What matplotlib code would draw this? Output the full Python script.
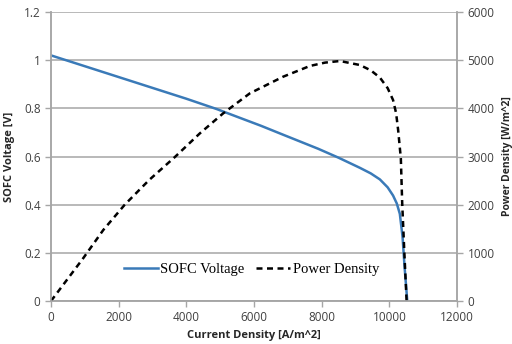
import matplotlib
matplotlib.use("Agg")
import matplotlib.pyplot as plt

# SOFC voltage curve
J_volt = [0, 1000, 2000, 3000, 4000, 4900, 5500, 6200, 6870, 7350, 7900, 8500,
          9130, 9450, 9720, 9950, 10110, 10220, 10310, 10390, 10450, 10530]
V_sofc = [1.02, 0.975, 0.93, 0.885, 0.84, 0.797, 0.765, 0.728, 0.69, 0.663, 0.632, 0.595,
          0.553, 0.53, 0.505, 0.472, 0.438, 0.405, 0.362, 0.267, 0.142, 0.0]

# power density curve
J_pow = [0, 950, 1545, 2180, 2900, 3662, 4400, 5090, 5877, 6860, 7354, 7650, 8100,
         8540, 9130, 9450, 9720, 9950, 10110, 10200, 10260, 10340, 10380, 10440, 10510]
P_dens = [0, 886, 1474, 2000, 2512, 2990, 3481, 3897, 4312, 4657, 4796, 4880, 4950,
          4983, 4900, 4790, 4640, 4420, 4173, 3900, 3550, 2960, 2030, 1060, 0]

xticks = [0, 2000, 4000, 6000, 8000, 10000, 12000]
vticks = [0, 0.2, 0.4, 0.6, 0.8, 1, 1.2]
pticks = [0, 1000, 2000, 3000, 4000, 5000, 6000]

plt.rcParams['font.family'] = ['Open Sans', 'DejaVu Sans']
grey = '#a6a6a6'
blue = '#3a7ab8'

fig = plt.figure(figsize=(5.12, 3.44), dpi=100)
ax = fig.add_axes([0.0996, 0.125, 0.793, 0.84])
ax2 = ax.twinx()

ln1, = ax.plot(J_volt, V_sofc, color=blue, lw=1.8, label='SOFC Voltage')
ln2, = ax2.plot(J_pow, P_dens, color='black', lw=1.8, linestyle=(0, (2.4, 1.8)),
                label='Power Density')

ax.set_xlim(0, 12000)
ax.set_ylim(0, 1.2)
ax2.set_ylim(0, 6000)
ax.set_xticks(xticks)
ax.set_yticks(vticks)
ax.set_yticklabels(['0', '0.2', '0.4', '0.6', '0.8', '1', '1.2'])
ax2.set_yticks(pticks)

ax.yaxis.grid(True, color=grey, lw=1.1)
ax.set_axisbelow(True)

for a in (ax, ax2):
    a.spines['top'].set_visible(False)
    for s in ('left', 'right', 'bottom'):
        a.spines[s].set_color(grey)
        a.spines[s].set_linewidth(1.1)
    a.tick_params(colors=grey, labelcolor='#404040', labelsize=8.5, length=4, width=1)

ax.set_xlabel('Current Density [A/m^2]', fontsize=8, fontweight='bold', color='#262626', labelpad=4)
ax.set_ylabel('SOFC Voltage [V]', fontsize=8, fontweight='bold', color='#262626', labelpad=6)
ax2.set_ylabel('Power Density [W/m^2]', fontsize=7.5, fontweight='bold', color='#262626')
ax2.yaxis.set_label_coords(1.11, 0.5)

leg = ax.legend([ln1, ln2], ['SOFC Voltage', 'Power Density'], loc='center',
                bbox_to_anchor=(0.494, 0.11), ncol=2, frameon=False,
                prop={'family': 'Liberation Serif', 'size': 10.5},
                handlelength=2.3, handletextpad=0.2, columnspacing=0.8)

fig.savefig('out.png', dpi=100)
